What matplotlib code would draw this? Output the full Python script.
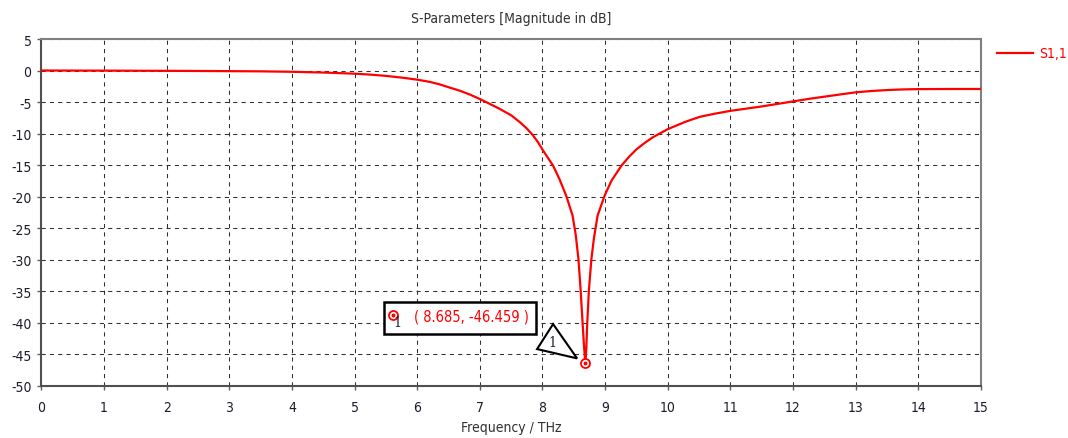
import matplotlib
matplotlib.use("Agg")
import matplotlib.pyplot as plt
import matplotlib.transforms as mtransforms
from matplotlib.patches import Polygon, Rectangle

plt.rcParams["font.family"] = ["DejaVu Sans"]
plt.rcParams["font.stretch"] = "condensed"
plt.rcParams["axes.unicode_minus"] = False

# S11 magnitude readings (frequency in THz, magnitude in dB)
freq_thz = [0.0, 1.0, 2.0, 2.7, 3.0, 3.5, 4.0, 4.5, 5.0, 5.25, 5.5, 5.75,
            6.0, 6.2, 6.36, 6.5, 6.68, 6.85, 7.0, 7.15, 7.32, 7.5, 7.64, 7.75,
            7.85, 7.93, 8.01, 8.09, 8.17, 8.27, 8.38, 8.48, 8.53, 8.575, 8.61,
            8.64, 8.665, 8.685, 8.70, 8.715, 8.74, 8.78, 8.82, 8.88, 8.99,
            9.10, 9.26, 9.38, 9.50, 9.63, 9.76, 10.0, 10.29, 10.51, 10.75,
            11.0, 11.25, 11.5, 11.75, 12.0, 12.25, 12.5, 12.75, 13.0, 13.25,
            13.5, 13.75, 14.0, 14.5, 15.0]
s11_db = [0.0, -0.02, -0.05, -0.08, -0.1, -0.13, -0.2, -0.32, -0.5, -0.65,
          -0.85, -1.12, -1.45, -1.8, -2.2, -2.65, -3.2, -3.85, -4.52, -5.25,
          -6.1, -7.1, -8.2, -9.2, -10.3, -11.4, -12.7, -13.9, -15.1, -17.2,
          -19.9, -23.0, -26.0, -30.0, -35.0, -40.0, -44.0, -46.459, -44.0,
          -40.0, -35.0, -30.0, -26.7, -23.0, -19.9, -17.5, -15.1, -13.7,
          -12.5, -11.5, -10.6, -9.3, -8.1, -7.35, -6.85, -6.4, -6.05, -5.7,
          -5.3, -4.9, -4.5, -4.15, -3.8, -3.46, -3.25, -3.1, -3.0, -2.95,
          -2.93, -2.93]

marker_freq = 8.685
marker_db = -46.459

x_ticks = list(range(0, 16))
y_ticks = list(range(-50, 6, 5))

text_col = "#1c1c2a"
red = "#ff0000"

fig = plt.figure(figsize=(10.68, 4.39), dpi=100)
ax = fig.add_axes([41.3 / 1068, 1 - 386.7 / 439, (981 - 41.3) / 1068, (386.7 - 40) / 439])

ax.plot(freq_thz, s11_db, color=red, lw=1.6, zorder=3, label="S1,1",
        solid_joinstyle="round")

ax.set_xlim(0, 15)
ax.set_ylim(-50, 5)
ax.set_xticks(x_ticks)
ax.set_yticks(y_ticks)
ax.tick_params(axis="both", labelsize=10, labelcolor=text_col, colors="#606060",
               length=3, width=1)
ax.tick_params(axis="x", pad=7)
ax.tick_params(axis="y", pad=4)
ax.grid(True, color="#303030", linestyle=(0, (4, 4)), linewidth=0.75)
for s in ax.spines.values():
    s.set_color("#808080")
    s.set_linewidth(1.5)
ax.spines["left"].set_color("#505050")
ax.spines["bottom"].set_color("#505050")

ax.set_title("S-Parameters [Magnitude in dB]", fontsize=10, color="#303030", pad=12.5)
ax.set_xlabel("Frequency / THz", fontsize=10, color="#303030", labelpad=4.5)

# marker at the resonance minimum
ax.plot(marker_freq, marker_db, marker="o", ms=6.5, mfc="white", mec=red, mew=1.3,
        zorder=5, clip_on=False)
ax.plot(marker_freq, marker_db, marker="o", ms=1.8, mfc=red, mec=red, zorder=6,
        clip_on=False)

# shapes positioned in pixels relative to the marker point
anchor = mtransforms.ScaledTranslation(marker_freq, marker_db, ax.transData)
pix = mtransforms.Affine2D() + anchor

tri = Polygon([(-48.3, 14.3), (-32.3, 39.3), (-8.3, 5.0)], closed=True,
              facecolor="white", edgecolor="black", lw=1.5, transform=pix,
              zorder=4, clip_on=False)
ax.add_patch(tri)
ax.text(-33, 21, "1", transform=pix, fontsize=10, color=text_col,
        family="DejaVu Serif", ha="center", va="center", zorder=5)

box = Rectangle((-201.7, 29.3), 152.4, 32.4, facecolor="white", edgecolor="black",
                lw=1.8, transform=pix, zorder=4, clip_on=False)
ax.add_patch(box)
ax.plot([-192.3], [48.3], marker="o", ms=6.5, mfc="white", mec=red, mew=1.3,
        transform=pix, zorder=5, clip_on=False)
ax.plot([-192.3], [48.3], marker="o", ms=1.8, mfc=red, mec=red,
        transform=pix, zorder=6, clip_on=False)
ax.text(-188.3, 41, "1", transform=pix, fontsize=10, color=text_col,
        family="DejaVu Serif", ha="center", va="center", zorder=6)
ax.text(-171.7, 47.6, f"( {marker_freq:.3f}, {marker_db:.3f} )", transform=pix,
        fontsize=10.5, color=red, ha="left", va="center", zorder=6)

fig.legend(loc="upper left", bbox_to_anchor=(997.3 / 1068, 1 - 47.5 / 439),
           frameon=False, fontsize=10, labelcolor="linecolor", handlelength=2.55,
           handletextpad=0.45, borderpad=0, borderaxespad=0)

fig.savefig("out.png", dpi=100)
